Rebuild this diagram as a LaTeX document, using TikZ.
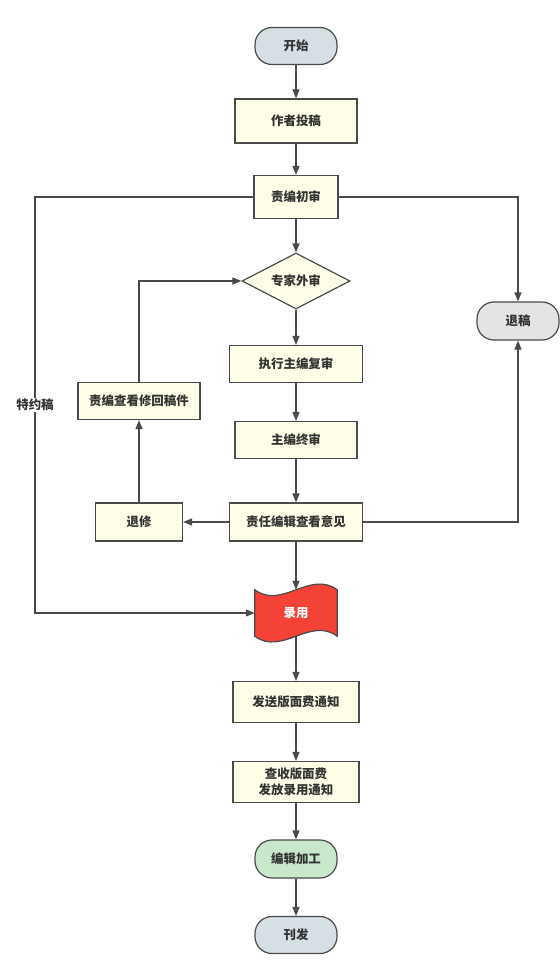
\documentclass[tikz,border=0pt]{standalone}
\usepackage{fontspec}
\setmainfont{Noto Sans CJK SC}
\usetikzlibrary{shapes.geometric, arrows.meta}
\definecolor{linegray}{HTML}{4A4A4A}
\definecolor{textgray}{HTML}{333333}
\definecolor{boxyellow}{HTML}{FFFFE9}
\definecolor{termblue}{HTML}{D5DFE4}
\definecolor{termgray}{HTML}{E4E4E4}
\definecolor{termgreen}{HTML}{C9E7CB}
\definecolor{flagred}{HTML}{F44336}
\tikzset{>={Triangle[length=9bp,width=7bp]},
  proc/.style={draw=linegray, line width=1.2bp, fill=boxyellow, text=textgray,
    minimum height=38bp, inner sep=0pt, align=center,
    font=\fontsize{12.5}{16}\selectfont\bfseries},
  term/.style={proc, rounded corners=17bp, minimum width=82bp, minimum height=37bp},
  decide/.style={proc, diamond, aspect=2, minimum width=108bp, minimum height=56bp},
  flow/.style={->, draw=linegray, line width=1.2bp}}

\begin{document}
\begin{tikzpicture}[x=1bp, y=-1bp]
     \useasboundingbox (0,0) rectangle (560,967);
     % main column
     \node[term, fill=termblue] (start) at (296,46) {开始};
     \node[proc, minimum width=122bp, minimum height=44bp] (tougao) at (296,121) {作者投稿};
     \node[proc, minimum width=84bp, minimum height=43bp] (chushen) at (296,197) {责编初审};
     \node[decide] (waishen) at (296,281) {专家外审};
     \node[proc, minimum width=133bp, minimum height=37bp] (fushen) at (296,364) {执行主编复审};
     \node[proc, minimum width=122bp, minimum height=37bp] (zhongshen) at (296,440) {主编终审};
     \node[proc, minimum width=133bp] (yijian) at (296,522) {责任编辑查看意见};
     \node[minimum width=82bp, minimum height=46bp, inner sep=0pt] (luyong) at (296,613) {};
     \draw[draw=linegray, fill=flagred, line width=1.2bp]
          (luyong.north west) .. controls +(27,20) and +(-27,-20) .. (luyong.north east)
          -- (luyong.south east) .. controls +(-27,-20) and +(27,20) .. (luyong.south west)
          -- cycle;
     \node[text=white, font=\fontsize{12.5}{16}\selectfont\bfseries] (luyongtext) at (luyong) {录用};
     \node[proc, minimum width=126bp, minimum height=41bp] (tongzhi) at (296,702) {发送版面费通知};
     \node[proc, minimum width=126bp, minimum height=41bp] (shoufei) at (296,782) {查收版面费\\发放录用通知};
     \node[term, fill=termgreen, minimum height=38bp] (jiagong) at (296,859) {编辑加工};
     \node[term, fill=termblue] (kanfa) at (296,935) {刊发};
     % side boxes
     \node[proc, minimum width=87bp] (tuixiu) at (139,522) {退修};
     \node[proc, minimum width=122bp, minimum height=37bp] (xiugai) at (139,401) {责编查看修回稿件};
     \node[term, fill=termgray, minimum height=38bp] (tuigao) at (518,321) {退稿};
     \coordinate (leftx) at (35,400);

     \draw[flow] (start) -- (tougao);
     \draw[flow] (tougao) -- (chushen);
     \draw[flow] (chushen) -- (waishen);
     \draw[flow] (waishen) -- (fushen);
     \draw[flow] (fushen) -- (zhongshen);
     \draw[flow] (zhongshen) -- (yijian);
     \draw[flow] (yijian) -- (luyong);
     \draw[flow] (luyong) -- (tongzhi);
     \draw[flow] (tongzhi) -- (shoufei);
     \draw[flow] (shoufei) -- (jiagong);
     \draw[flow] (jiagong) -- (kanfa);
     \draw[flow] (yijian) -- (tuixiu);
     \draw[flow] (tuixiu) -- (xiugai);
     \draw[flow] (xiugai.north) |- (waishen.west);
     \draw[flow] (chushen.east) -| (tuigao.north);
     \draw[flow] (yijian.east) -| (tuigao.south);
     \draw[flow] (chushen.west) -- (chushen.west -| leftx)
          -- node[fill=white, text=textgray, inner sep=1bp, font=\fontsize{12.5}{16}\selectfont\bfseries] {特约稿}
          (luyong.west -| leftx) -- (luyong.west);
\end{tikzpicture}
\end{document}
